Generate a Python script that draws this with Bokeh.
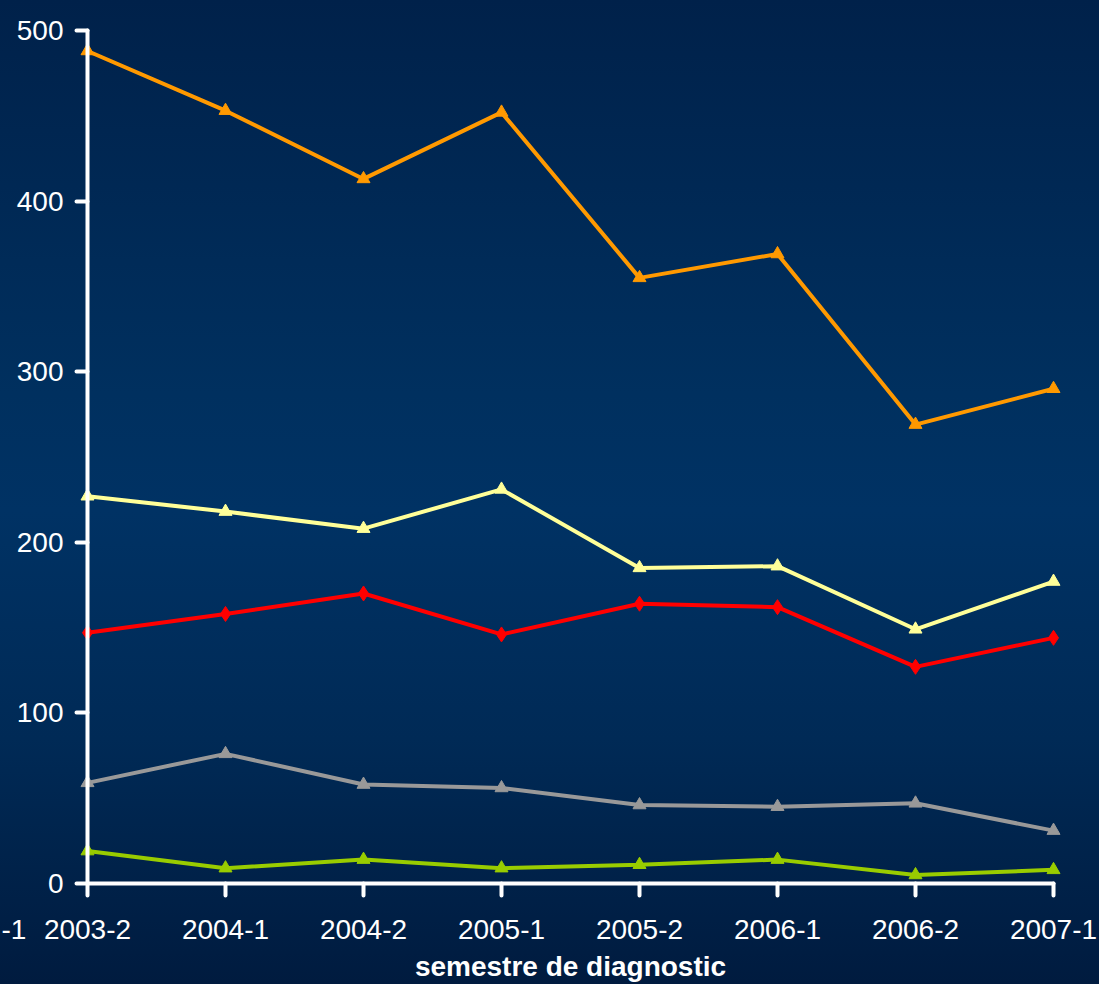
from bokeh.plotting import figure
from bokeh.models import Range1d, FixedTicker, Label
from bokeh.embed import file_html
from bokeh.resources import INLINE

# ---- data ----
semesters = ["2003-2", "2004-1", "2004-2", "2005-1", "2005-2", "2006-1", "2006-2", "2007-1"]
orange_vals = [488, 453, 413, 452, 355, 369, 269, 290]
yellow_vals = [227, 218, 208, 231, 185, 186, 149, 177]
red_vals = [147, 158, 170, 146, 164, 162, 127, 144]
gray_vals = [59, 76, 58, 56, 46, 45, 47, 31]
green_vals = [19, 9, 14, 9, 11, 14, 5, 8]
y_ticks = [0, 100, 200, 300, 400, 500]
y_max = 500
x_title = "semestre de diagnostic"
left_fragment = "-1"

W, H = 1099, 984
AL, AR, AT, AB = 87, 1053, 30, 883  # pixel positions of the axes' ends

n = len(semesters)
ppx = (AR - AL) / (n - 1)        # pixels per category step
ppy = (AB - AT) / y_max          # pixels per unit

# the frame fills the whole canvas; the axes are pinned inside it
x_range = Range1d(-AL / ppx, (n - 1) + (W - AR) / ppx)
y_range = Range1d(-(H - AB) / ppy, y_max + AT / ppy)

p = figure(width=W, height=H, output_backend="svg", toolbar_location=None,
           x_range=x_range, y_range=y_range,
           min_border_left=0, min_border_right=0, min_border_top=0, min_border_bottom=0)
p.background_fill_color = None
p.border_fill_color = None
p.outline_line_color = None
p.grid.visible = False

FONT = "Liberation Sans"
xs = list(range(n))

series = [
    (orange_vals, "#FF9900", "triangle", 13),
    (yellow_vals, "#FFFF99", "triangle", 13),
    (red_vals, "#FF0000", "diamond", 15),
    (gray_vals, "#999999", "triangle", 13),
    (green_vals, "#99CC00", "triangle", 13),
]
for vals, col, mk, sz in series:
    p.line(xs, vals, line_color=col, line_width=4)
    p.scatter(xs, vals, marker=mk, size=sz, fill_color=col, line_color=col)

for ax in (p.xaxis[0], p.yaxis[0]):
    ax.fixed_location = 0
    ax.axis_line_color = "white"
    ax.axis_line_width = 4
    ax.axis_line_cap = "round"
    ax.major_tick_line_color = "white"
    ax.major_tick_line_width = 4
    ax.major_tick_line_cap = "round"
    ax.major_tick_in = 0
    ax.minor_tick_line_color = None
    ax.major_label_text_color = "white"
    ax.major_label_text_font = FONT
    ax.major_label_text_font_size = "28px"

p.xaxis.bounds = (0, n - 1)
p.xaxis.ticker = FixedTicker(ticks=xs)
p.xaxis.major_label_overrides = {i: s for i, s in enumerate(semesters)}
p.xaxis.major_tick_out = 12
p.xaxis.major_label_standoff = 24
p.xaxis.axis_label = x_title
p.xaxis.axis_label_text_color = "white"
p.xaxis.axis_label_text_font = FONT
p.xaxis.axis_label_text_font_style = "bold"
p.xaxis.axis_label_text_font_size = "28px"
p.xaxis.axis_label_standoff = 9

p.yaxis.bounds = (0, y_max)
p.yaxis.ticker = FixedTicker(ticks=y_ticks)
p.yaxis.major_tick_out = 11
p.yaxis.major_label_standoff = 13

# fragment of a clipped category label at the far left edge
p.add_layout(Label(x=1, y=H - 929, x_units="screen", y_units="screen", text=left_fragment,
                   text_align="left", text_baseline="alphabetic",
                   text_color="white", text_font=FONT, text_font_size="28px"))

template = """{% block preamble %}<style>
html, body { margin: 0 !important; padding: 0; height: 100%; overflow: hidden;
  background: linear-gradient(180deg, #00214a 0%, #00305f 40%, #003264 52%, #002a56 75%, #001b3f 100%); }
</style>{% endblock %}"""

open("out.html", "w").write(file_html(p, INLINE, template=template))
